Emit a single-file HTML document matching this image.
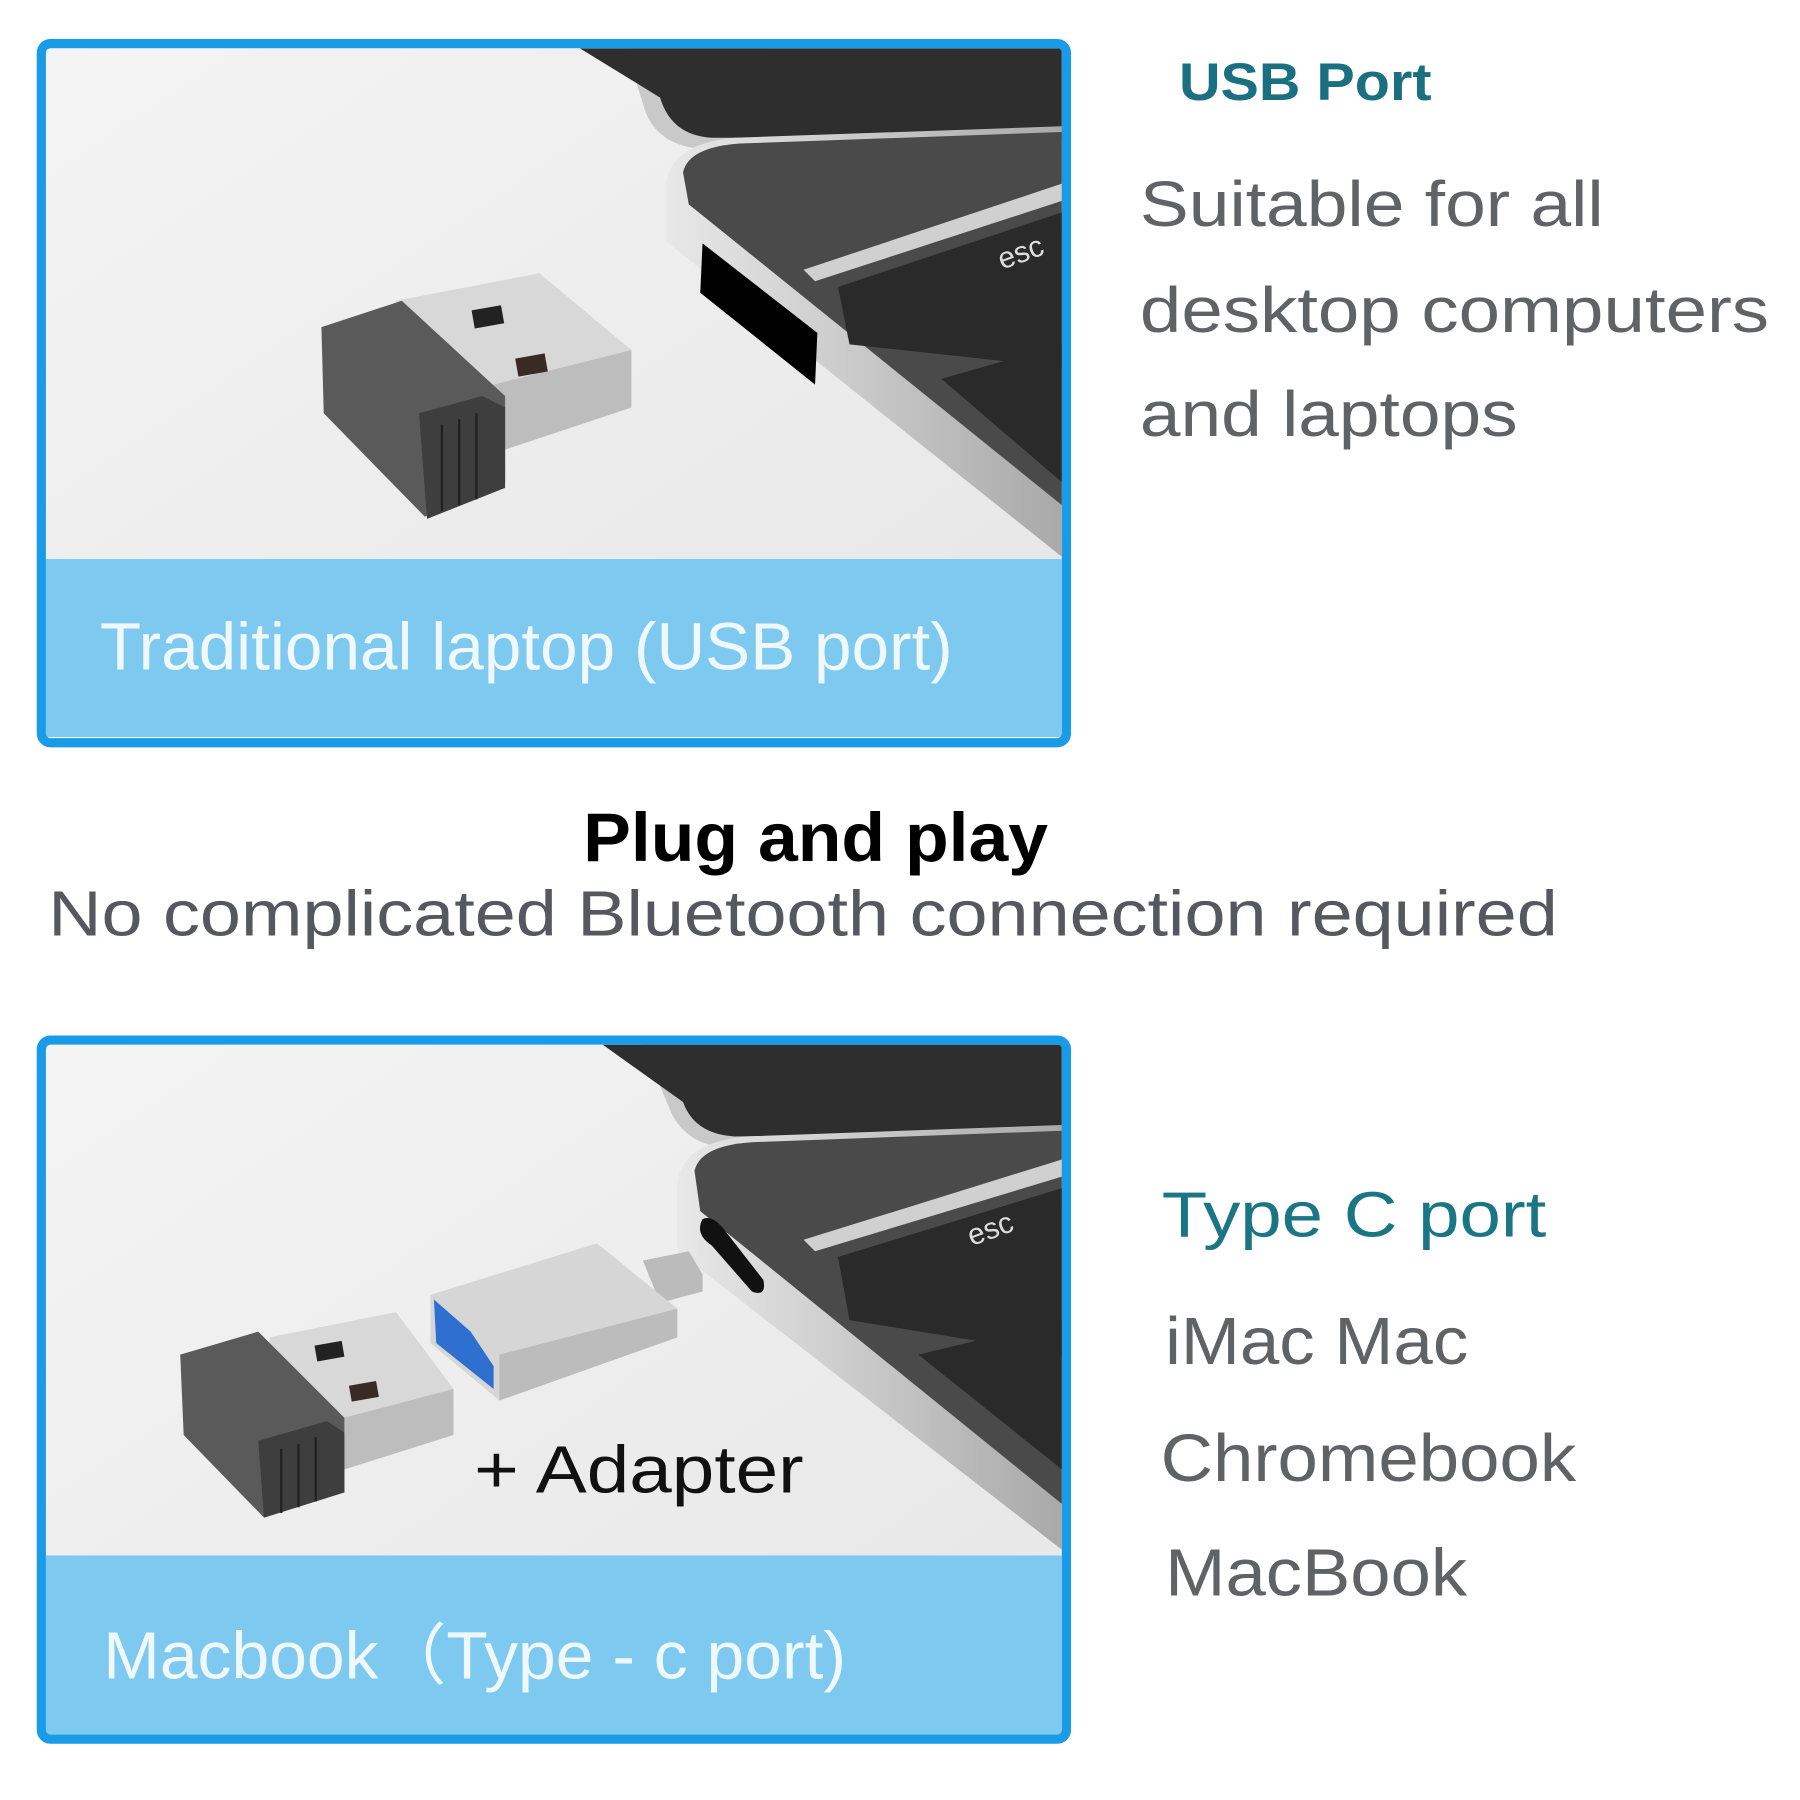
<!DOCTYPE html>
<html><head><meta charset="utf-8"><style>
html,body{margin:0;padding:0;background:#fff;}
svg{display:block}
text{font-family:"Liberation Sans","DejaVu Sans",sans-serif;}
</style></head><body>
<svg width="1800" height="1800" viewBox="0 0 1568 1568" xmlns="http://www.w3.org/2000/svg">
<defs>
<linearGradient id="bg" x1="0" y1="0" x2="1" y2="1"><stop offset="0" stop-color="#f4f4f4"/><stop offset="1" stop-color="#e6e6e6"/></linearGradient>
<linearGradient id="sil" x1="0" y1="0" x2="1" y2="0"><stop offset="0" stop-color="#e8e8e8"/><stop offset="1" stop-color="#a9a9a9"/></linearGradient>
<clipPath id="c1"><rect x="40" y="42" width="885" height="600"/></clipPath>
<clipPath id="c2"><rect x="40" y="910" width="885" height="604"/></clipPath>
</defs>
<rect width="1568" height="1568" fill="#fff"/>

<!-- TOP PANEL -->
<g clip-path="url(#c1)">
<rect x="40" y="42" width="885" height="600" fill="url(#bg)"/>
<path d="M490 42 L925 42 L925 130 L620 130 Q570 130 560 90 L545 42 Z" fill="#c9c9c9"/>
<path d="M505 42 L925 42 L925 120 L620 120 Q585 118 575 85 Z" fill="#2e2e2e"/>
<path d="M580 160 Q585 125 640 120 L925 110 L925 485 L580 210 Z" fill="url(#sil)"/>
<path d="M595 150 Q600 128 645 125 L925 115 L925 440 L600 178 Z" fill="#4a4a4a"/>
<path d="M700 235 L925 160 L925 175 L710 245 Z" fill="#d0d0d0"/>
<path d="M730 250 L925 185 L925 320 L740 300 Z" fill="#2a2a2a"/>
<path d="M820 330 L925 300 L925 420 Z" fill="#2a2a2a"/>
<text x="870" y="232" font-size="26" fill="#ddd" transform="rotate(-20 880 225)">esc</text>
<path d="M612 212 L712 290 L710 335 L610 255 Z" fill="#000"/>
<path d="M345 262 L470 238 L550 305 L550 355 L430 395 L345 320 Z" fill="#d8d8d8"/>
<path d="M430 335 L550 305 L550 355 L430 395 Z" fill="#bdbdbd"/>
<rect x="412" y="268" width="26" height="16" fill="#222" transform="rotate(-10 425 276)"/>
<rect x="450" y="310" width="26" height="16" fill="#3a2a25" transform="rotate(-10 463 318)"/>
<path d="M280 285 L350 262 L440 345 L440 420 L370 450 L282 360 Z" fill="#5a5a5a"/>
<path d="M365 360 L420 345 L440 355 L440 425 L372 452 Z" fill="#3e3e3e"/>
<g stroke="#222" stroke-width="2"><line x1="385" y1="370" x2="385" y2="445"/><line x1="400" y1="365" x2="400" y2="440"/><line x1="415" y1="360" x2="415" y2="435"/></g>
<rect x="40" y="487" width="885" height="160" fill="#7dc9ef"/>
<text x="87" y="583" font-size="58" fill="#eef8fd" textLength="743" lengthAdjust="spacingAndGlyphs">Traditional laptop (USB port)</text>
</g>
<rect x="36" y="38" width="893" height="609" rx="8" fill="none" stroke="#1a9be8" stroke-width="8"/>

<!-- BOTTOM PANEL -->
<g clip-path="url(#c2)">
<rect x="40" y="910" width="885" height="604" fill="url(#bg)"/>
<path d="M505 910 L925 910 L925 1000 L640 1000 Q600 1000 585 970 L560 910 Z" fill="#c9c9c9"/>
<path d="M525 910 L925 910 L925 985 L640 990 Q605 988 595 960 Z" fill="#2e2e2e"/>
<path d="M590 1030 Q595 995 650 990 L925 980 L925 1350 L590 1090 Z" fill="url(#sil)"/>
<path d="M605 1020 Q610 998 655 995 L925 985 L925 1310 L610 1055 Z" fill="#4a4a4a"/>
<path d="M700 1080 L925 1010 L925 1025 L710 1090 Z" fill="#d0d0d0"/>
<path d="M730 1095 L925 1035 L925 1180 L740 1150 Z" fill="#2a2a2a"/>
<path d="M800 1180 L925 1150 L925 1280 Z" fill="#2a2a2a"/>
<text x="842" y="1080" font-size="26" fill="#ddd" transform="rotate(-20 860 1070)">esc</text>
<path d="M612 1062 Q605 1075 620 1085 L655 1125 Q668 1130 665 1115 L630 1070 Q620 1058 612 1062 Z" fill="#111"/>
<path d="M560 1098 L600 1090 L612 1110 L612 1125 L575 1135 Z" fill="#bbb"/>
<path d="M375 1128 L520 1083 L590 1140 L590 1165 L435 1220 L375 1170 Z" fill="#d6d6d6"/>
<path d="M435 1180 L590 1140 L590 1165 L435 1220 Z" fill="#bcbcbc"/>
<path d="M378 1132 L410 1160 L430 1190 L430 1210 L380 1170 Z" fill="#2f6fd0"/>
<path d="M235 1165 L345 1143 L395 1210 L395 1250 L300 1280 L235 1230 Z" fill="#d8d8d8"/>
<path d="M300 1235 L395 1210 L395 1250 L300 1280 Z" fill="#bdbdbd"/>
<rect x="275" y="1170" width="24" height="14" fill="#222" transform="rotate(-10 287 1177)"/>
<rect x="305" y="1205" width="24" height="14" fill="#3a2a25" transform="rotate(-10 317 1212)"/>
<path d="M157 1180 L225 1160 L300 1235 L300 1300 L230 1322 L160 1250 Z" fill="#5a5a5a"/>
<path d="M225 1255 L285 1238 L300 1248 L300 1300 L230 1322 Z" fill="#3e3e3e"/>
<g stroke="#222" stroke-width="2"><line x1="245" y1="1262" x2="245" y2="1318"/><line x1="260" y1="1258" x2="260" y2="1313"/><line x1="275" y1="1252" x2="275" y2="1308"/></g>
<text x="413" y="1300" font-size="58" fill="#111" textLength="287" lengthAdjust="spacingAndGlyphs">+ Adapter</text>
<rect x="40" y="1355" width="885" height="160" fill="#7dc9ef"/>
<text x="90" y="1462" font-size="58" fill="#eef8fd" textLength="647" lengthAdjust="spacingAndGlyphs">Macbook（Type - c port)</text>
</g>
<rect x="36" y="906" width="893" height="609" rx="8" fill="none" stroke="#1a9be8" stroke-width="8"/>

<!-- right text -->
<text x="1027" y="87" font-size="46" font-weight="bold" fill="#1a6f80" textLength="220" lengthAdjust="spacingAndGlyphs">USB Port</text>
<g font-size="56" fill="#5f6366">
<text x="993" y="197" textLength="404" lengthAdjust="spacingAndGlyphs">Suitable for all</text>
<text x="993" y="289" textLength="548" lengthAdjust="spacingAndGlyphs">desktop computers</text>
<text x="993" y="380" textLength="329" lengthAdjust="spacingAndGlyphs">and laptops</text>
</g>
<text x="508" y="750" font-size="60" font-weight="bold" fill="#000" textLength="405" lengthAdjust="spacingAndGlyphs">Plug and play</text>
<text x="42" y="815" font-size="56" fill="#55585f" textLength="1315" lengthAdjust="spacingAndGlyphs">No complicated Bluetooth connection required</text>
<text x="1012" y="1077" font-size="56" fill="#1a7585" textLength="335" lengthAdjust="spacingAndGlyphs">Type C port</text>
<g font-size="58" fill="#5f6366">
<text x="1015" y="1188" textLength="264" lengthAdjust="spacingAndGlyphs">iMac Mac</text>
<text x="1011" y="1290" textLength="362" lengthAdjust="spacingAndGlyphs">Chromebook</text>
<text x="1015" y="1390" textLength="263" lengthAdjust="spacingAndGlyphs">MacBook</text>
</g>
</svg>
</body></html>
